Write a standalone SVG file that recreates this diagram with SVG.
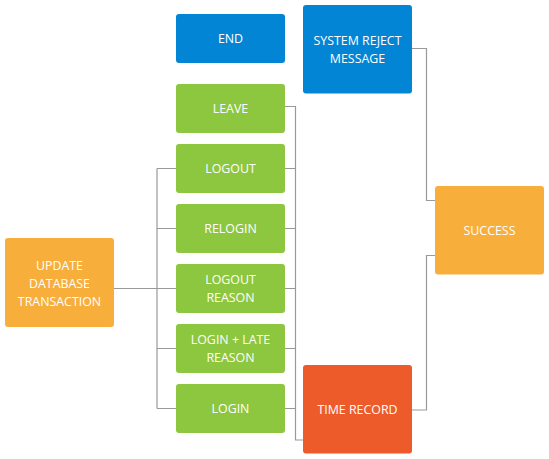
<svg xmlns="http://www.w3.org/2000/svg" width="549" height="459" viewBox="0 0 549 459">
<style>
.n{stroke:none}
.g{fill:#8DC63F}
.b{fill:#0385D5}
.o{fill:#F8AE3A}
.r{fill:#EE5B2B}
text{font-family:"Open Sans","Liberation Sans",sans-serif;font-size:12.4px;fill:#FFFFFF;text-anchor:middle;dominant-baseline:central}
.c{fill:none;stroke:#999999;stroke-width:1.2}
</style>
<rect width="549" height="459" fill="#FFFFFF"/>
<g id="connectors">
<path class="c" d="M114 288.5H157M157 168.5V408.5M157 168.5H176M157 228.5H176M157 288.5H176M157 348.5H176M157 408.5H176"/>
<path class="c" d="M285 106.5H295.5V440H303M285 168.5H295.5M285 228.5H295.5M285 288.5H295.5M285 348.5H295.5M285 408.5H295.5"/>
<path class="c" d="M412 48.5H426.5V200.5H435M412 410H426.5V255.5H435"/>
</g>
<g id="end"><rect class="n b" x="176" y="14" width="109" height="49" rx="3"/><text x="230.5" y="38.5">END</text></g>
<g id="system-reject"><rect class="n b" x="303" y="5" width="109" height="88.5" rx="3"/><text x="357.5" y="40.5">SYSTEM REJECT</text><text x="357.5" y="58.5">MESSAGE</text></g>
<g id="leave"><rect class="n g" x="176" y="84" width="109" height="49" rx="3"/><text x="230.5" y="108.5">LEAVE</text></g>
<g id="logout"><rect class="n g" x="176" y="144" width="109" height="49" rx="3"/><text x="230.5" y="168.5">LOGOUT</text></g>
<g id="relogin"><rect class="n g" x="176" y="204" width="109" height="49" rx="3"/><text x="230.5" y="228.5">RELOGIN</text></g>
<g id="logout-reason"><rect class="n g" x="176" y="264" width="109" height="49" rx="3"/><text x="230.5" y="279.5">LOGOUT</text><text x="230.5" y="297.5">REASON</text></g>
<g id="login-late"><rect class="n g" x="176" y="324" width="109" height="49" rx="3"/><text x="230.5" y="339.5">LOGIN + LATE</text><text x="230.5" y="357.5">REASON</text></g>
<g id="login"><rect class="n g" x="176" y="384" width="109" height="49" rx="3"/><text x="230.5" y="408.5">LOGIN</text></g>
<g id="update-db"><rect class="n o" x="5" y="238" width="109" height="89" rx="3"/><text x="59.5" y="265">UPDATE</text><text x="59.5" y="283">DATABASE</text><text x="59.5" y="301">TRANSACTION</text></g>
<g id="success"><rect class="n o" x="435" y="186" width="109" height="88.5" rx="3"/><text x="489.5" y="230.5">SUCCESS</text></g>
<g id="time-record"><rect class="n r" x="303" y="365" width="109" height="88.5" rx="3"/><text x="357.5" y="409.5">TIME RECORD</text></g>
</svg>
